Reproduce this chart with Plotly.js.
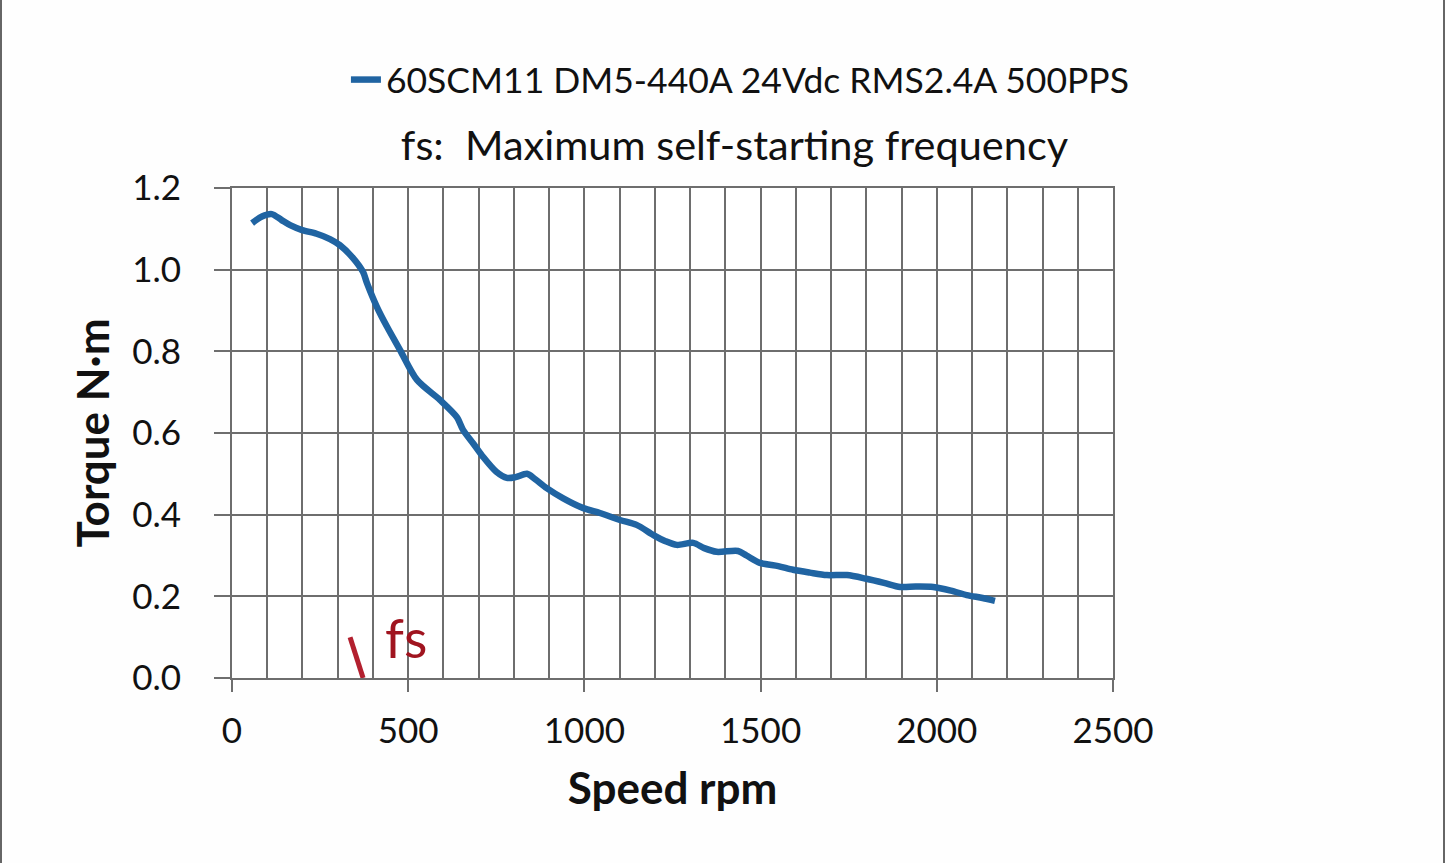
<!DOCTYPE html>
<html>
<head>
<meta charset="utf-8">
<script src="https://cdn.plot.ly/plotly-3.0.1.min.js"></script>
<style>
  html, body { margin: 0; padding: 0; background: #fefefe; }
  #wrap { position: relative; width: 1445px; height: 863px; }
  .edge { position: absolute; top: 0; width: 2px; height: 863px; background: #666; pointer-events: none; }
</style>
</head>
<body>
<div id="wrap">
  <div id="chart"></div>
  <div class="edge" style="left:0"></div>
  <div class="edge" style="right:0"></div>
</div>
<script>
// Speed (rpm) and torque (N·m)
const speedRpm = [57, 85, 113, 140, 165, 199, 240, 278, 306, 343, 372, 383, 411, 440, 477, 525, 590, 638, 656, 684, 713, 750, 780, 805, 837, 860, 893, 940, 997, 1044, 1101, 1148, 1196, 1230, 1262, 1309, 1340, 1375, 1436, 1460, 1498, 1550, 1592, 1640, 1688, 1745, 1800, 1850, 1896, 1940, 1990, 2040, 2085, 2130, 2165];
const torqueNm = [1.114, 1.130, 1.136, 1.122, 1.109, 1.097, 1.088, 1.075, 1.060, 1.029, 0.994, 0.967, 0.909, 0.860, 0.803, 0.730, 0.681, 0.639, 0.607, 0.575, 0.541, 0.505, 0.490, 0.492, 0.500, 0.487, 0.465, 0.440, 0.416, 0.404, 0.387, 0.375, 0.350, 0.335, 0.326, 0.331, 0.318, 0.309, 0.311, 0.300, 0.282, 0.274, 0.265, 0.258, 0.252, 0.252, 0.243, 0.233, 0.223, 0.224, 0.223, 0.214, 0.203, 0.196, 0.189];
const seriesName = "60SCM11 DM5-440A 24Vdc RMS2.4A 500PPS";

// fs marker (maximum self-starting frequency)
const fsX = [335, 372];
const fsY = [0.10, 0.0];
const fsLabel = "fs";

const xTickVals = [0, 500, 1000, 1500, 2000, 2500];
const yTickVals = [0.0, 0.2, 0.4, 0.6, 0.8, 1.0, 1.2];
const yTickText = ["0.0", "0.2", "0.4", "0.6", "0.8", "1.0", "1.2"];

const FONT = "Lato, 'Open Sans', sans-serif";
const GRID = "#6e6e6e";

const traces = [
  {
    x: speedRpm, y: torqueNm, name: seriesName, type: "scatter", mode: "lines",
    line: { color: "#2064a2", width: 6.5, shape: "spline", smoothing: 0.8 },
    showlegend: true
  },
  {
    x: fsX, y: fsY, type: "scatter", mode: "lines", showlegend: false,
    line: { color: "#b3202f", width: 5 }, hoverinfo: "skip"
  }
];

const layout = {
  width: 1445, height: 863,
  paper_bgcolor: "#fefefe", plot_bgcolor: "#ffffff",
  margin: { l: 232, r: 332, t: 188, b: 185 },
  font: { family: FONT, color: "#111" },
  title: {
    text: "fs:  Maximum self-starting frequency",
    font: { family: FONT, size: 41.5, color: "#111" },
    x: 0.5083, xanchor: "center", xref: "container",
    y: 1 - 145 / 863, yanchor: "middle", yref: "container"
  },
  showlegend: true,
  legend: {
    orientation: "h",
    xref: "container", yref: "container",
    x: 0.2394, xanchor: "left",
    y: 1 - 80 / 863, yanchor: "middle",
    font: { family: FONT, size: 35.5, color: "#111" },
    bgcolor: "rgba(0,0,0,0)"
  },
  xaxis: {
    range: [0, 2500], tickvals: xTickVals, ticktext: xTickVals.map(String),
    showgrid: true, gridcolor: GRID, gridwidth: 2,
    minor: { dtick: 100, showgrid: true, gridcolor: GRID, gridwidth: 2, ticks: "" },
    showline: true, linecolor: GRID, linewidth: 2, mirror: true,
    ticks: "outside", ticklen: 12, tickwidth: 2, tickcolor: GRID,
    ticklabelstandoff: 9,
    tickfont: { family: FONT, size: 35, color: "#111" },
    zeroline: false, fixedrange: true,
    title: { text: "<b>Speed rpm</b>", font: { family: FONT, size: 44, color: "#111" }, standoff: 24 }
  },
  yaxis: {
    range: [0, 1.2], tickvals: yTickVals, ticktext: yTickText,
    showgrid: true, gridcolor: GRID, gridwidth: 2,
    showline: true, linecolor: GRID, linewidth: 2, mirror: true,
    ticks: "outside", ticklen: 16, tickwidth: 2, tickcolor: GRID,
    ticklabelstandoff: 26,
    tickfont: { family: FONT, size: 35, color: "#111" },
    zeroline: false, fixedrange: true,
    title: { text: "<b>Torque N·m</b>", font: { family: FONT, size: 44, color: "#111" }, standoff: 9 }
  },
  annotations: [
    {
      x: 428, y: 0.10, xref: "x", yref: "y", xanchor: "left", yanchor: "middle",
      text: fsLabel, showarrow: false,
      font: { family: FONT, size: 54, color: "#a0141f" }
    }
  ]
};

Plotly.newPlot("chart", traces, layout, { displayModeBar: false, staticPlot: true });
</script>
</body>
</html>
